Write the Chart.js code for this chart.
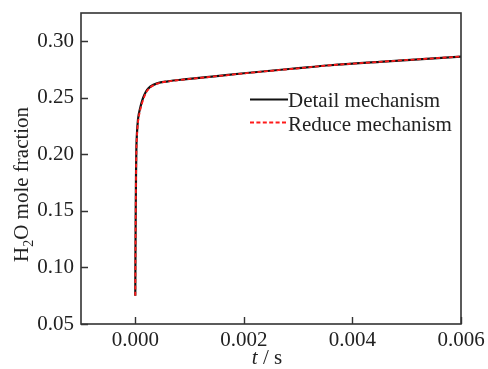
<!DOCTYPE html>
<html>
<head>
<meta charset="utf-8">
<script src="https://cdn.jsdelivr.net/npm/chart.js@4.4.0/dist/chart.umd.min.js"></script>
<style>
html,body{margin:0;padding:0;background:#fff;}
#wrap{width:488px;height:369px;position:relative;}
</style>
</head>
<body>
<div id="wrap"><canvas id="c" width="488" height="369"></canvas></div>
<script>
const timeDetail = [0, 0.000003, 0.000008, 0.000013, 0.00002, 0.00003, 0.00005, 0.00009, 0.00013, 0.00017, 0.00022, 0.00028, 0.0004, 0.0006, 0.0009, 0.0015, 0.002, 0.003, 0.0036, 0.0045, 0.006];
const h2oDetail  = [0.075, 0.11, 0.15, 0.18, 0.205, 0.218, 0.231, 0.241, 0.248, 0.2530, 0.2572, 0.2600, 0.2628, 0.2646, 0.2663, 0.2692, 0.2717, 0.2762, 0.2788, 0.2818, 0.2865];
const timeReduce = [0, 0.000003, 0.000008, 0.000013, 0.00002, 0.00003, 0.00005, 0.00009, 0.00013, 0.00017, 0.00022, 0.00028, 0.0004, 0.0006, 0.0009, 0.0015, 0.002, 0.003, 0.0036, 0.0045, 0.006];
const h2oReduce  = [0.075, 0.108, 0.147, 0.177, 0.202, 0.215, 0.228, 0.239, 0.246, 0.2515, 0.2562, 0.2594, 0.2625, 0.2645, 0.2662, 0.2691, 0.2716, 0.2761, 0.2788, 0.2818, 0.2865];
const xTicks = [0, 0.002, 0.004, 0.006];
const yTicks = [0.05, 0.10, 0.15, 0.20, 0.25, 0.30];
const seriesLabels = ['Detail mechanism', 'Reduce mechanism'];

const FONT = '"Liberation Serif", "Times New Roman", serif';
const AXIS = '#333333';

function pts(xs, ys){ return xs.map((x,i)=>({x:x, y:ys[i]})); }

const decor = {
  id: 'decor',
  afterDatasetsDraw(chart){
    const ctx = chart.ctx, a = chart.chartArea;
    const xs = chart.scales.x, ys = chart.scales.y;
    ctx.save();
    // frame
    ctx.strokeStyle = AXIS; ctx.lineWidth = 1.6;
    ctx.strokeRect(a.left, a.top, a.right - a.left, a.bottom - a.top);
    // inward ticks
    ctx.lineWidth = 1.4;
    ctx.beginPath();
    xTicks.forEach(v=>{ const p = Math.round(xs.getPixelForValue(v)) + 0.5; ctx.moveTo(p, a.bottom); ctx.lineTo(p, a.bottom - 7); });
    yTicks.forEach(v=>{ const p = Math.round(ys.getPixelForValue(v)) + 0.5; ctx.moveTo(a.left, p); ctx.lineTo(a.left + 7, p); });
    ctx.stroke();
    // legend
    const ds = chart.data.datasets;
    const legendRows = [{i:1, y:99.5, base:107}, {i:0, y:122.5, base:131}];
    legendRows.forEach(r=>{
      const d = ds[r.i];
      ctx.strokeStyle = d.borderColor; ctx.lineWidth = d.borderWidth;
      ctx.setLineDash(d.borderDash || []);
      ctx.beginPath(); ctx.moveTo(250, r.y); ctx.lineTo(288, r.y); ctx.stroke();
      ctx.setLineDash([]);
      ctx.fillStyle = '#222'; ctx.font = '21px ' + FONT; ctx.textBaseline = 'alphabetic'; ctx.textAlign = 'left';
      ctx.fillText(d.label, 288, r.base);
    });
    // x title: italic t / s
    const cx = (a.left + a.right) / 2;
    ctx.fillStyle = '#222';
    ctx.font = 'italic 21px ' + FONT;
    const tW = ctx.measureText('t').width;
    ctx.font = '21px ' + FONT;
    const restW = ctx.measureText(' / s').width;
    let sx = cx - (tW + restW) / 2 - 4;
    ctx.font = 'italic 21px ' + FONT; ctx.fillText('t', sx, 364);
    ctx.font = '21px ' + FONT; ctx.fillText(' / s', sx + tW, 364);
    // y title: H2O mole fraction (rotated)
    ctx.translate(28, 262);
    ctx.rotate(-Math.PI / 2);
    ctx.textAlign = 'left';
    ctx.font = '21px ' + FONT; ctx.fillText('H', 0, 0);
    let off = ctx.measureText('H').width;
    ctx.font = '14px ' + FONT; ctx.fillText('2', off, 5);
    off += ctx.measureText('2').width;
    ctx.font = '21px ' + FONT; ctx.fillText('O mole fraction', off, 0);
    ctx.restore();
  }
};

new Chart(document.getElementById('c'), {
  type: 'line',
  data: {
    datasets: [
      { label: seriesLabels[1], data: pts(timeReduce, h2oReduce), borderColor: '#ff1a1a', borderWidth: 1.8, borderDash: [4, 2.4], pointRadius: 0, cubicInterpolationMode: 'monotone', fill: false, order: 0 },
      { label: seriesLabels[0], data: pts(timeDetail, h2oDetail), borderColor: '#111111', borderWidth: 2.2, pointRadius: 0, cubicInterpolationMode: 'monotone', fill: false, order: 1 }
    ]
  },
  options: {
    responsive: false,
    animation: false,
    devicePixelRatio: 1,
    layout: { padding: { top: 13, right: 27, left: 0, bottom: 0 } },
    plugins: { legend: { display: false }, tooltip: { enabled: false } },
    scales: {
      x: {
        type: 'linear', min: -0.001, max: 0.006,
        afterBuildTicks: s => { s.ticks = xTicks.map(v => ({ value: v })); },
        afterFit: s => { s.height = 45; s.paddingLeft = 0; s.paddingRight = 0; },
        grid: { display: false, drawTicks: false },
        border: { display: false },
        ticks: { padding: 4, color: '#222', font: { family: FONT, size: 21 }, maxRotation: 0, autoSkip: false, callback: v => Number(v).toFixed(3) }
      },
      y: {
        type: 'linear', min: 0.05, max: 0.325,
        afterBuildTicks: s => { s.ticks = yTicks.map(v => ({ value: v })); },
        afterFit: s => { s.width = 81; s.paddingTop = 0; s.paddingBottom = 0; },
        grid: { display: false, drawTicks: false },
        border: { display: false },
        ticks: { padding: 7, color: '#222', font: { family: FONT, size: 21 }, autoSkip: false, callback: v => Number(v).toFixed(2) }
      }
    }
  },
  plugins: [decor]
});
</script>
</body>
</html>
